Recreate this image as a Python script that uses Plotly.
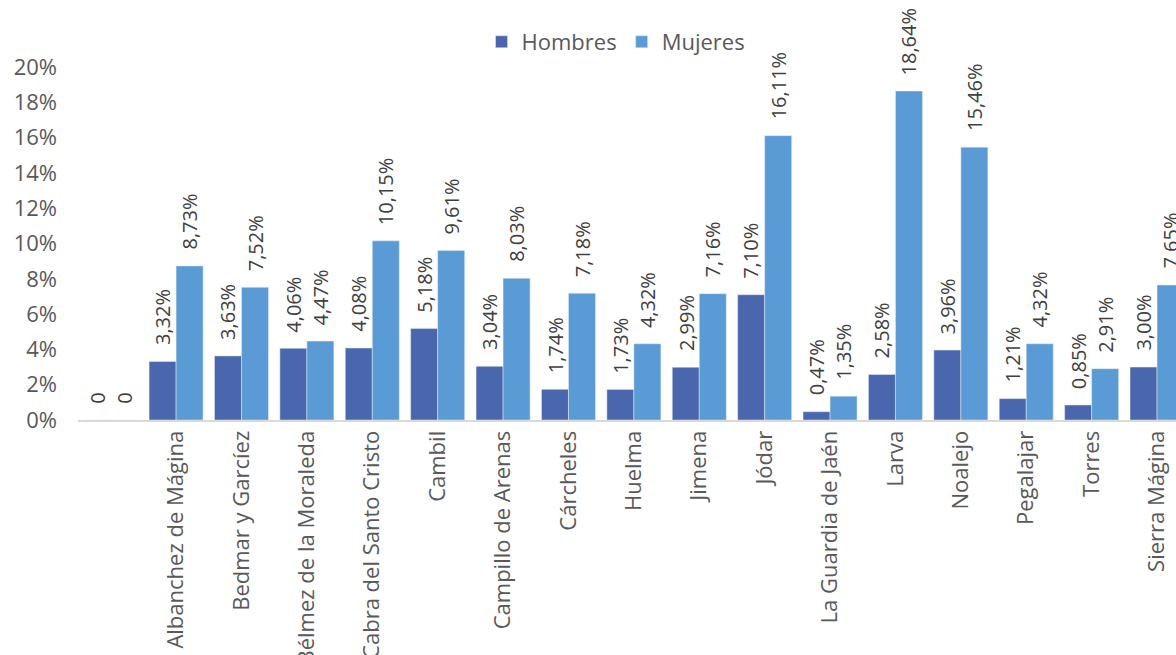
import plotly.graph_objects as go

categories = [" ", "Albanchez de Mágina", "Bedmar y Garcíez", "Bélmez de la Moraleda",
              "Cabra del Santo Cristo", "Cambil", "Campillo de Arenas", "Cárcheles",
              "Huelma", "Jimena", "Jódar", "La Guardia de Jaén", "Larva", "Noalejo",
              "Pegalajar", "Torres", "Sierra Mágina"]
hombres = [0, 0.0332, 0.0363, 0.0406, 0.0408, 0.0518, 0.0304, 0.0174, 0.0173, 0.0299,
           0.0710, 0.0047, 0.0258, 0.0396, 0.0121, 0.0085, 0.0300]
mujeres = [0, 0.0873, 0.0752, 0.0447, 0.1015, 0.0961, 0.0803, 0.0718, 0.0432, 0.0716,
           0.1611, 0.0135, 0.1864, 0.1546, 0.0432, 0.0291, 0.0765]


def fmt(v):
    return "0" if v == 0 else f"{v*100:.2f}%".replace(".", ",")


FONT = "Open Sans"
fig = go.Figure()
fig.add_trace(go.Bar(name="Hombres", x=categories, y=hombres, marker_color="#4a66ac"))
fig.add_trace(go.Bar(name="Mujeres", x=categories, y=mujeres, marker_color="#5b9bd5"))

annotations = []
for series, shift in ((hombres, -13.5), (mujeres, 13.5)):
    for c, v in zip(categories, series):
        annotations.append(dict(x=c, y=v, xref="x", yref="y", text=fmt(v),
                                showarrow=False, textangle=-90,
                                xanchor="center", yanchor="bottom",
                                xshift=shift, yshift=14,
                                font=dict(family=FONT, size=20, color="#404040")))

fig.update_layout(
    width=1176, height=655,
    margin=dict(l=78, r=0, t=67, b=235, autoexpand=False),
    paper_bgcolor="white", plot_bgcolor="white",
    barmode="group", bargap=0.174, bargroupgap=0,
    separators=",.",
    font=dict(family=FONT, size=22, color="#595959"),
    annotations=annotations,
    legend=dict(orientation="h", x=0.49, xanchor="center", y=1.071, yanchor="middle",
                font=dict(family=FONT, size=22, color="#595959"),
                itemwidth=30, traceorder="normal"),
    xaxis=dict(type="category", range=[-0.5, 16.29], tickangle=-90, automargin=False,
               showline=True, linecolor="#d9d9d9", linewidth=2,
               showgrid=False, ticks="",
               tickfont=dict(family=FONT, size=22, color="#595959")),
    yaxis=dict(range=[0, 0.2], dtick=0.02, tickformat=".0%", showgrid=False,
               automargin=False,
               zeroline=False, showline=False, ticks="", ticklabelstandoff=20,
               tickfont=dict(family=FONT, size=22, color="#595959")),
)

fig.write_html("out.html", config={"displayModeBar": False},
               post_script="document.body.style.margin='0';document.body.style.overflow='hidden';")
